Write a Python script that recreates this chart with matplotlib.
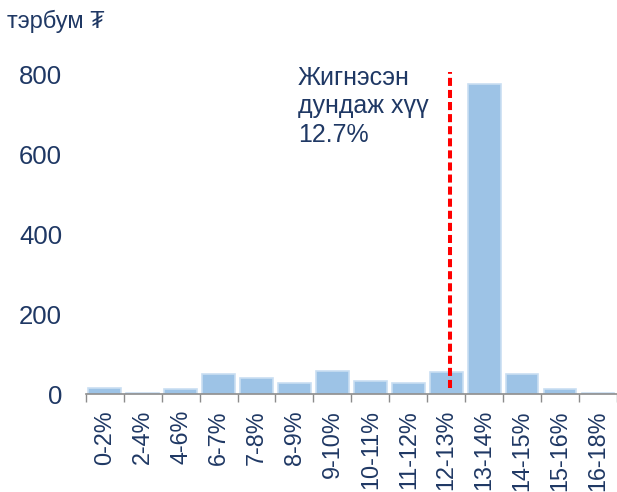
import numpy as np
import matplotlib.pyplot as plt

plt.rcParams['font.family'] = ['Liberation Sans', 'DejaVu Sans']

# distribution by interest rate band
categories = ['0-2%', '2-4%', '4-6%', '6-7%', '7-8%', '8-9%', '9-10%',
              '10-11%', '11-12%', '12-13%', '13-14%', '14-15%', '15-16%', '16-18%']
values = [16, 2, 12, 50, 40, 27, 57, 32, 28, 55, 775, 50, 13, 3]
yticks = [0, 200, 400, 600, 800]
wavg_pos = 9.1          # 12.7% sits inside the 12-13% bin
wavg_span = [15, 805]

navy = '#1F3864'

fig = plt.figure(figsize=(6.17, 4.92), dpi=100)
ax = fig.add_axes([0.139, 0.199, 0.861, 0.691])

x = np.arange(len(categories))
ax.bar(x, values, width=0.86, color='#9DC3E6', edgecolor='#C9DEF2', linewidth=1.2, zorder=2)

ax.plot([wavg_pos, wavg_pos], wavg_span, color='#FF0000', lw=2.9,
        ls=(0, (2.0, 1.0)), zorder=3)
ax.text(5.09, 821, 'Жигнэсэн\nдундаж хүү\n12.7%', fontsize=18, color=navy,
        va='top', ha='left', linespacing=1.25)

ax.set_xlim(-0.5, len(categories) - 0.5)
ax.set_ylim(0, 850)

# ticks at bin boundaries, labels at bin centres
ax.set_xticks(np.arange(len(categories) + 1) - 0.5)
ax.set_xticklabels([])
ax.set_xticks(x, minor=True)
ax.set_xticklabels(categories, minor=True, rotation=90, fontsize=16.8, color=navy)
ax.tick_params(axis='x', which='major', length=6, width=1, color='#8C8C8C', direction='out')
ax.tick_params(axis='x', which='minor', length=0, pad=11.5)

ax.set_yticks(yticks)
ax.set_yticklabels([str(v) for v in yticks], fontsize=18.5, color=navy)
ax.tick_params(axis='y', length=0, pad=17)

for s in ['top', 'right', 'left']:
    ax.spines[s].set_visible(False)
ax.spines['bottom'].set_color('#8C8C8C')
ax.spines['bottom'].set_linewidth(1.2)

fig.text(7/617, 1 - 21/492, 'тэрбум ₮', fontsize=17, color=navy, va='center', ha='left')

plt.savefig('out.png', dpi=100)
